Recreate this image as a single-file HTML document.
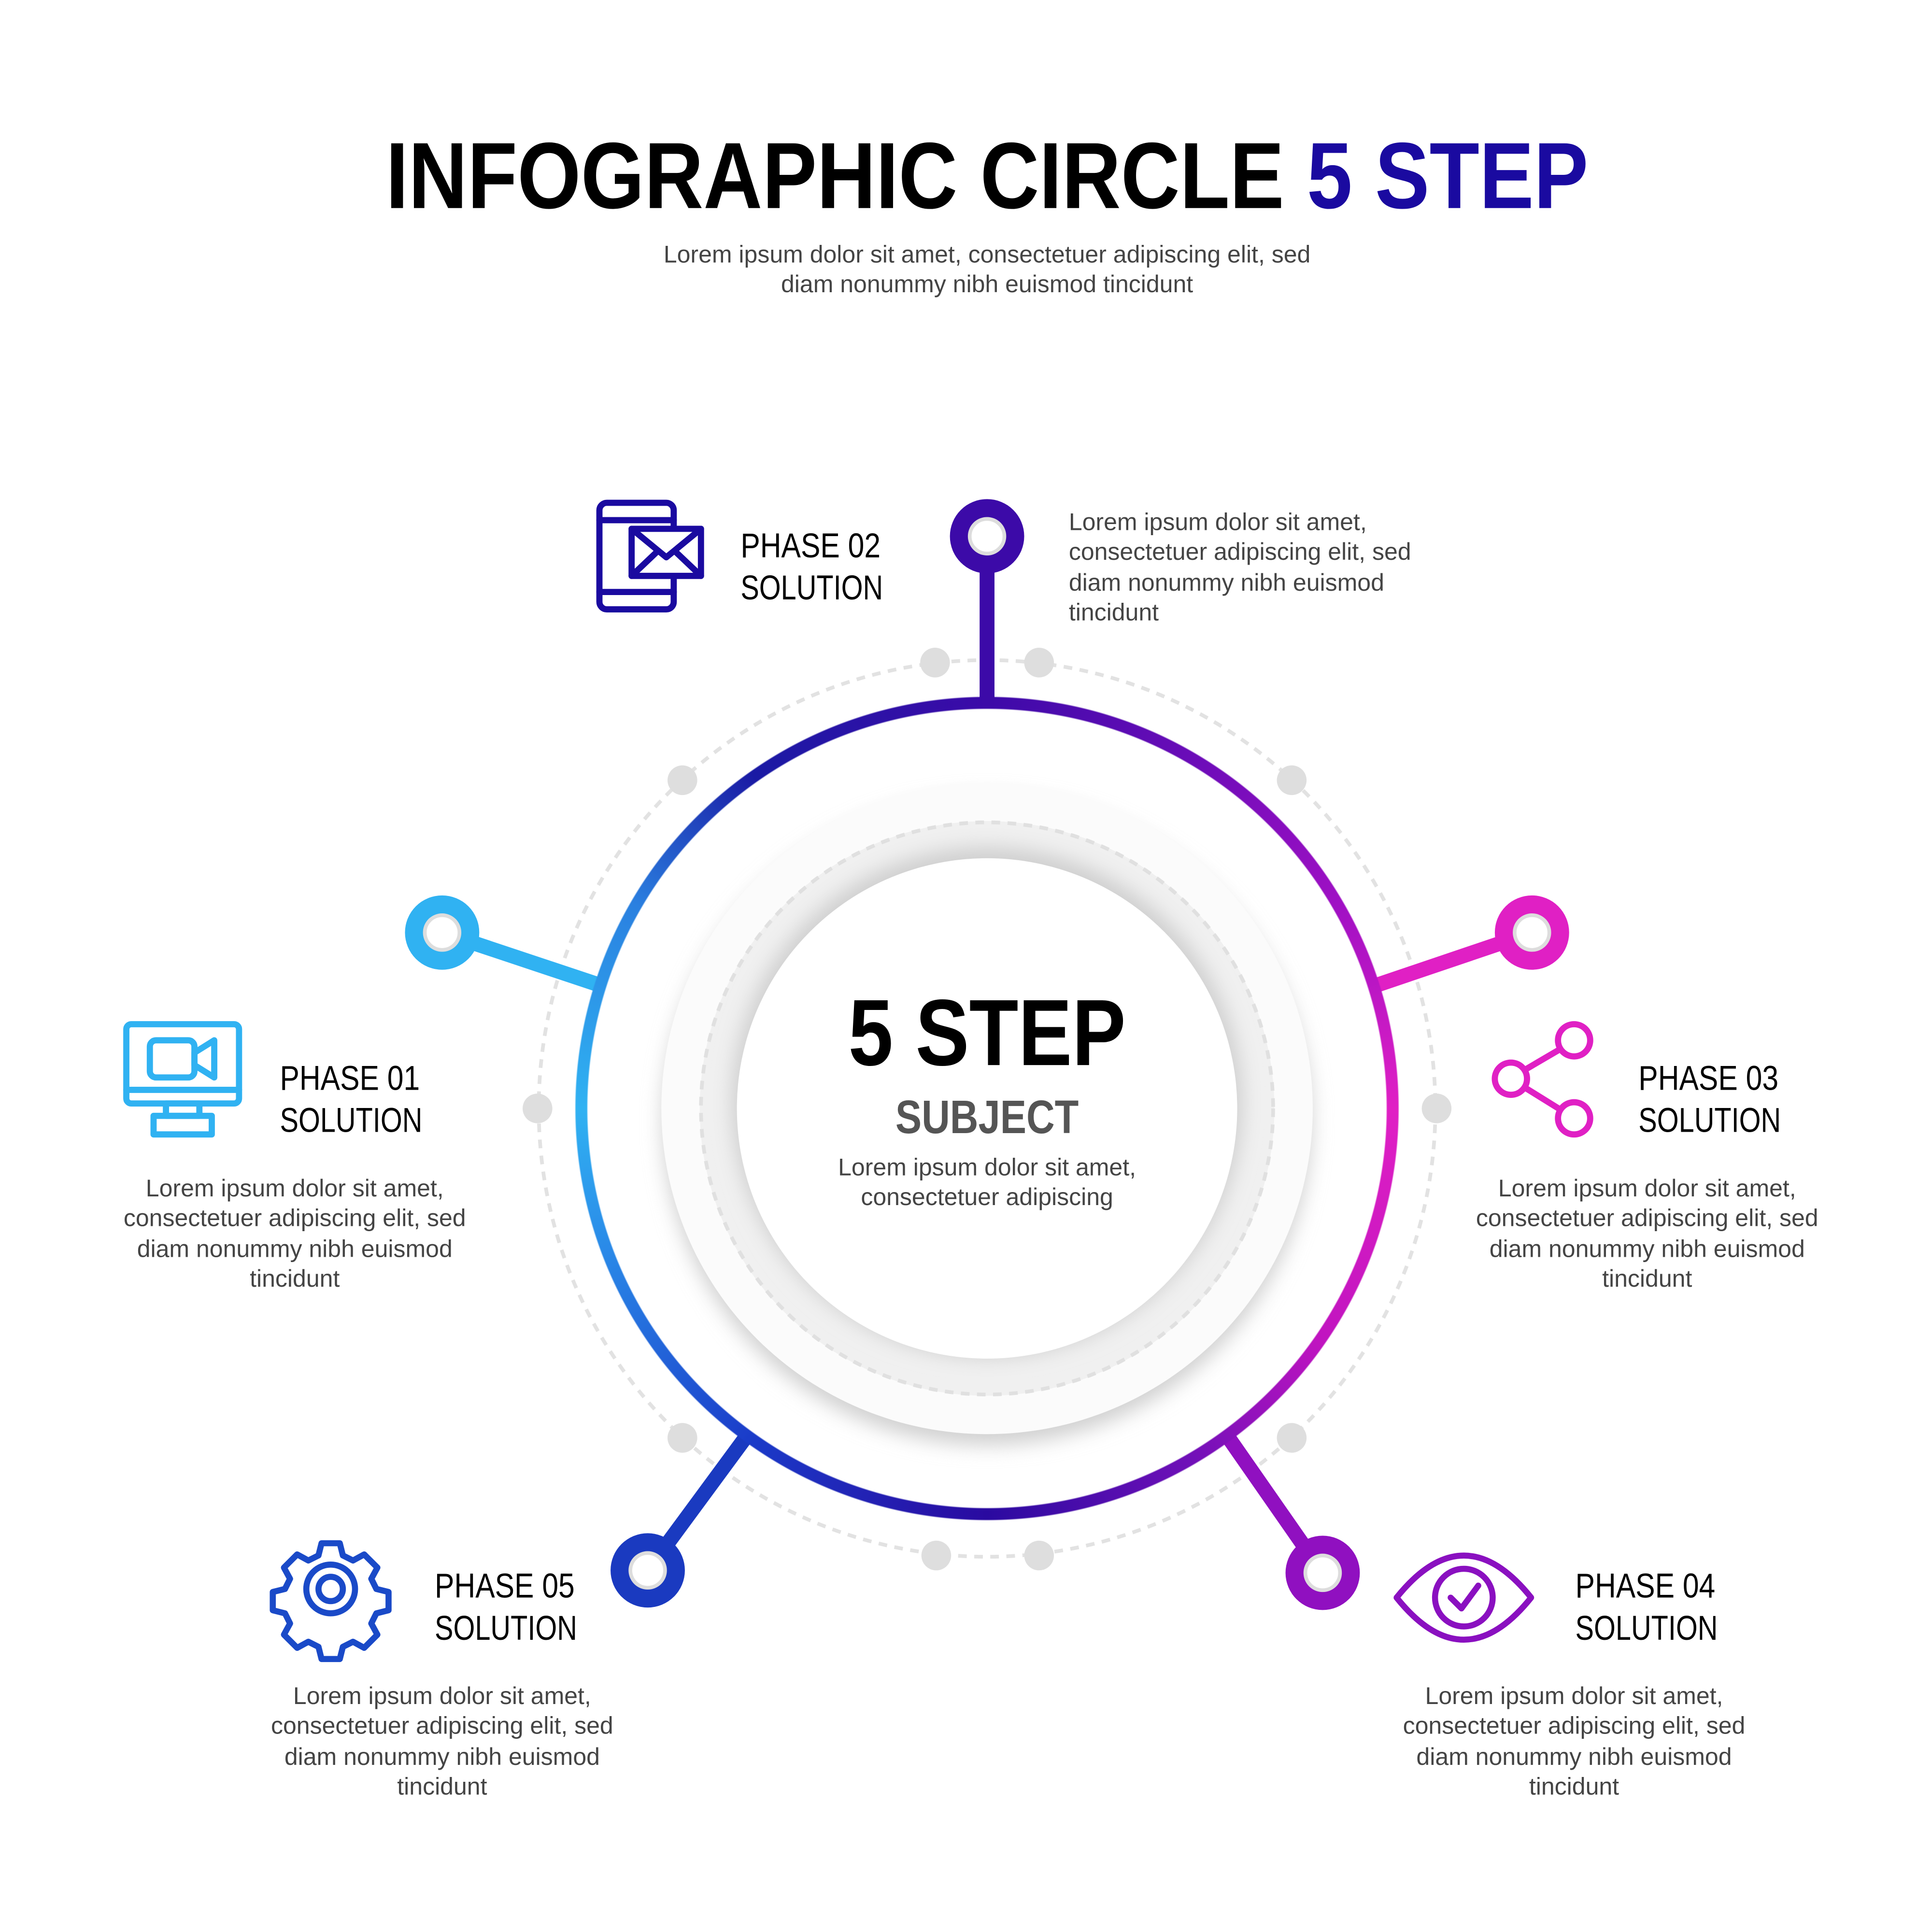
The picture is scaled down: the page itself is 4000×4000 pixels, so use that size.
<!DOCTYPE html>
<html><head><meta charset="utf-8"><style>
html,body{margin:0;padding:0;background:#fff;}
#w{position:relative;width:4000px;height:4000px;overflow:hidden;}
#ring{position:absolute;border-radius:50%;
left:calc((797 - 333)*2.5641px);top:calc((895 - 333)*2.5641px);width:calc(666*2.5641px);height:calc(666*2.5641px);
background:conic-gradient(#3c0aa8 0deg,#6a0cb8 30deg,#a010c4 60deg,#e020c4 90deg,#c014c0 125deg,#7010b8 150deg,#2a0aa0 180deg,#1a3ac8 215deg,#2a8ae8 250deg,#30b2f2 270deg,#2a80e0 300deg,#1a1aa4 325deg,#3c0aa8 360deg);
-webkit-mask:radial-gradient(circle closest-side,transparent 96.8%,#000 97.1%,#000 99.7%,transparent 100%);
mask:radial-gradient(circle closest-side,transparent 96.8%,#000 97.1%,#000 99.7%,transparent 100%);}
svg{position:absolute;left:0;top:0;}
</style></head><body><div id="w">
<svg width="4000" height="4000" viewBox="0 0 1560 1560" font-family="'Liberation Sans',sans-serif">
<defs>
<filter id="sh" x="-20%" y="-20%" width="140%" height="140%"><feGaussianBlur stdDeviation="8"/></filter>
</defs>
<text x="797" y="168" font-size="76" font-weight="bold" text-anchor="middle" textLength="971" lengthAdjust="spacingAndGlyphs" fill="#000">INFOGRAPHIC CIRCLE <tspan fill="#1a0aa0">5 STEP</tspan></text>
<g font-size="19.5" fill="#444" text-anchor="middle">
<text x="797" y="212">Lorem ipsum dolor sit amet, consectetuer adipiscing elit, sed</text>
<text x="797" y="236">diam nonummy nibh euismod tincidunt</text>
</g>
<circle cx="797" cy="895" r="362" fill="none" stroke="#e2e2e2" stroke-width="3" stroke-dasharray="7 6"/>
<g fill="#dedede">
<circle cx="755" cy="535" r="12"/><circle cx="839" cy="535" r="12"/>
<circle cx="551" cy="630" r="12"/><circle cx="1043" cy="630" r="12"/>
<circle cx="434" cy="895" r="12"/><circle cx="1160" cy="895" r="12"/>
<circle cx="551" cy="1161" r="12"/><circle cx="1043" cy="1161" r="12"/>
<circle cx="756" cy="1256" r="12"/><circle cx="839" cy="1256" r="12"/>
</g>
<circle cx="797" cy="905" r="262" fill="#d0d0d0" filter="url(#sh)"/>
<circle cx="797" cy="895" r="263" fill="#fbfbfb"/>
<circle cx="797" cy="895" r="232" fill="#f0f0f0"/>
<circle cx="797" cy="895" r="231" fill="none" stroke="#e0e0e0" stroke-width="3" stroke-dasharray="7 6"/>
<circle cx="797" cy="890" r="206" fill="#cfcfcf" filter="url(#sh)"/>
<circle cx="797" cy="895" r="202" fill="#fff"/>
<g stroke-width="12" stroke-linecap="butt">
<line x1="797" y1="572" x2="797" y2="433" stroke="#3c0aa8"/>
<line x1="486" y1="796" x2="357" y2="753" stroke="#30b2f2"/>
<line x1="1110" y1="796" x2="1237" y2="753" stroke="#e020c4"/>
<line x1="604" y1="1158" x2="523" y2="1268" stroke="#1a3ac0"/>
<line x1="990" y1="1158" x2="1068" y2="1270" stroke="#9010c0"/>
</g>
<g>
<circle cx="797" cy="433" r="30" fill="#3c0aa8"/>
<circle cx="357" cy="753" r="30" fill="#30b2f2"/>
<circle cx="1237" cy="753" r="30" fill="#e020c4"/>
<circle cx="523" cy="1268" r="30" fill="#1a3ac0"/>
<circle cx="1068" cy="1270" r="30" fill="#9010c0"/>
</g>
<g fill="#fff" stroke="#ddd" stroke-width="3">
<circle cx="797" cy="433" r="14"/><circle cx="357" cy="753" r="14"/><circle cx="1237" cy="753" r="14"/><circle cx="523" cy="1268" r="14"/><circle cx="1068" cy="1270" r="14"/>
</g>
<text x="797" y="860" font-size="76" font-weight="bold" text-anchor="middle" textLength="224" lengthAdjust="spacingAndGlyphs">5 STEP</text>
<text x="797" y="915" font-size="38" font-weight="bold" fill="#555" text-anchor="middle" textLength="148" lengthAdjust="spacingAndGlyphs">SUBJECT</text>
<g font-size="19.5" fill="#444" text-anchor="middle">
<text x="797" y="949">Lorem ipsum dolor sit amet,</text>
<text x="797" y="973">consectetuer adipiscing</text>
</g>
<g font-size="28" fill="#000">
<text x="598" y="450" textLength="113" lengthAdjust="spacingAndGlyphs">PHASE 02</text>
<text x="598" y="484" textLength="115" lengthAdjust="spacingAndGlyphs">SOLUTION</text>
<text x="226" y="880" textLength="113" lengthAdjust="spacingAndGlyphs">PHASE 01</text>
<text x="226" y="914" textLength="115" lengthAdjust="spacingAndGlyphs">SOLUTION</text>
<text x="1323" y="880" textLength="113" lengthAdjust="spacingAndGlyphs">PHASE 03</text>
<text x="1323" y="914" textLength="115" lengthAdjust="spacingAndGlyphs">SOLUTION</text>
<text x="351" y="1290" textLength="113" lengthAdjust="spacingAndGlyphs">PHASE 05</text>
<text x="351" y="1324" textLength="115" lengthAdjust="spacingAndGlyphs">SOLUTION</text>
<text x="1272" y="1290" textLength="113" lengthAdjust="spacingAndGlyphs">PHASE 04</text>
<text x="1272" y="1324" textLength="115" lengthAdjust="spacingAndGlyphs">SOLUTION</text>
</g>
<g font-size="19.5" fill="#444">
<text x="863" y="428">Lorem ipsum dolor sit amet,</text>
<text x="863" y="452">consectetuer adipiscing elit, sed</text>
<text x="863" y="477">diam nonummy nibh euismod</text>
<text x="863" y="501">tincidunt</text>
</g>
<g font-size="19.5" fill="#444" text-anchor="middle">
<text x="238" y="966">Lorem ipsum dolor sit amet,</text>
<text x="238" y="990">consectetuer adipiscing elit, sed</text>
<text x="238" y="1015">diam nonummy nibh euismod</text>
<text x="238" y="1039">tincidunt</text>
<text x="1330" y="966">Lorem ipsum dolor sit amet,</text>
<text x="1330" y="990">consectetuer adipiscing elit, sed</text>
<text x="1330" y="1015">diam nonummy nibh euismod</text>
<text x="1330" y="1039">tincidunt</text>
<text x="357" y="1376">Lorem ipsum dolor sit amet,</text>
<text x="357" y="1400">consectetuer adipiscing elit, sed</text>
<text x="357" y="1425">diam nonummy nibh euismod</text>
<text x="357" y="1449">tincidunt</text>
<text x="1271" y="1376">Lorem ipsum dolor sit amet,</text>
<text x="1271" y="1400">consectetuer adipiscing elit, sed</text>
<text x="1271" y="1425">diam nonummy nibh euismod</text>
<text x="1271" y="1449">tincidunt</text>
</g>
<g fill="none" stroke-width="5" stroke-linejoin="round" stroke-linecap="round">
<g stroke="#1a0aa0">
<rect x="484" y="406" width="60" height="86" rx="6"/>
<line x1="484" y1="420" x2="544" y2="420"/><line x1="484" y1="478" x2="544" y2="478"/>
<rect x="510" y="427" width="56" height="38" fill="#fff"/>
<polyline points="510,427 538,450 566,427"/>
<line x1="510" y1="465" x2="530" y2="446"/><line x1="566" y1="465" x2="546" y2="446"/>
</g>
<g stroke="#30b2f2">
<rect x="102" y="827" width="91" height="64" rx="4"/>
<line x1="102" y1="880" x2="193" y2="880"/>
<rect x="134" y="891" width="27" height="10"/>
<rect x="124" y="901" width="47" height="15"/>
<rect x="121" y="840" width="36" height="30" rx="5"/>
<polygon points="157,850 173,840 173,870 157,860"/>
</g>
<g stroke="#e020c4">
<circle cx="1271" cy="840" r="13"/><circle cx="1220" cy="871" r="13"/><circle cx="1271" cy="903" r="13"/>
<line x1="1231" y1="864" x2="1260" y2="847"/><line x1="1231" y1="878" x2="1260" y2="896"/>
</g>
<g stroke="#1a4ac8" transform="translate(267 1283) scale(0.82) translate(-267 -1283)" stroke-width="6">
<path d="M258,1238 h18 l3,12 l10,5 l11,-6 l13,13 l-6,11 l5,10 l12,3 v18 l-12,3 l-5,10 l6,11 l-13,13 l-11,-6 l-10,5 l-3,12 h-18 l-3,-12 l-10,-5 l-11,6 l-13,-13 l6,-11 l-5,-10 l-12,-3 v-18 l12,-3 l5,-10 l-6,-11 l13,-13 l11,6 l10,-5 z"/>
<circle cx="267" cy="1283" r="24"/><circle cx="267" cy="1283" r="12"/>
</g>
<g stroke="#8a10c0" transform="translate(1182 1290) scale(0.97) translate(-1182 -1290)">
<path d="M1126,1290 Q1182,1220 1238,1290 Q1182,1360 1126,1290 Z"/>
<circle cx="1182" cy="1290" r="24"/>
<polyline points="1171,1290 1180,1299 1194,1280"/>
</g>
</g>
</svg>
<div id="ring"></div>
</div></body></html>
